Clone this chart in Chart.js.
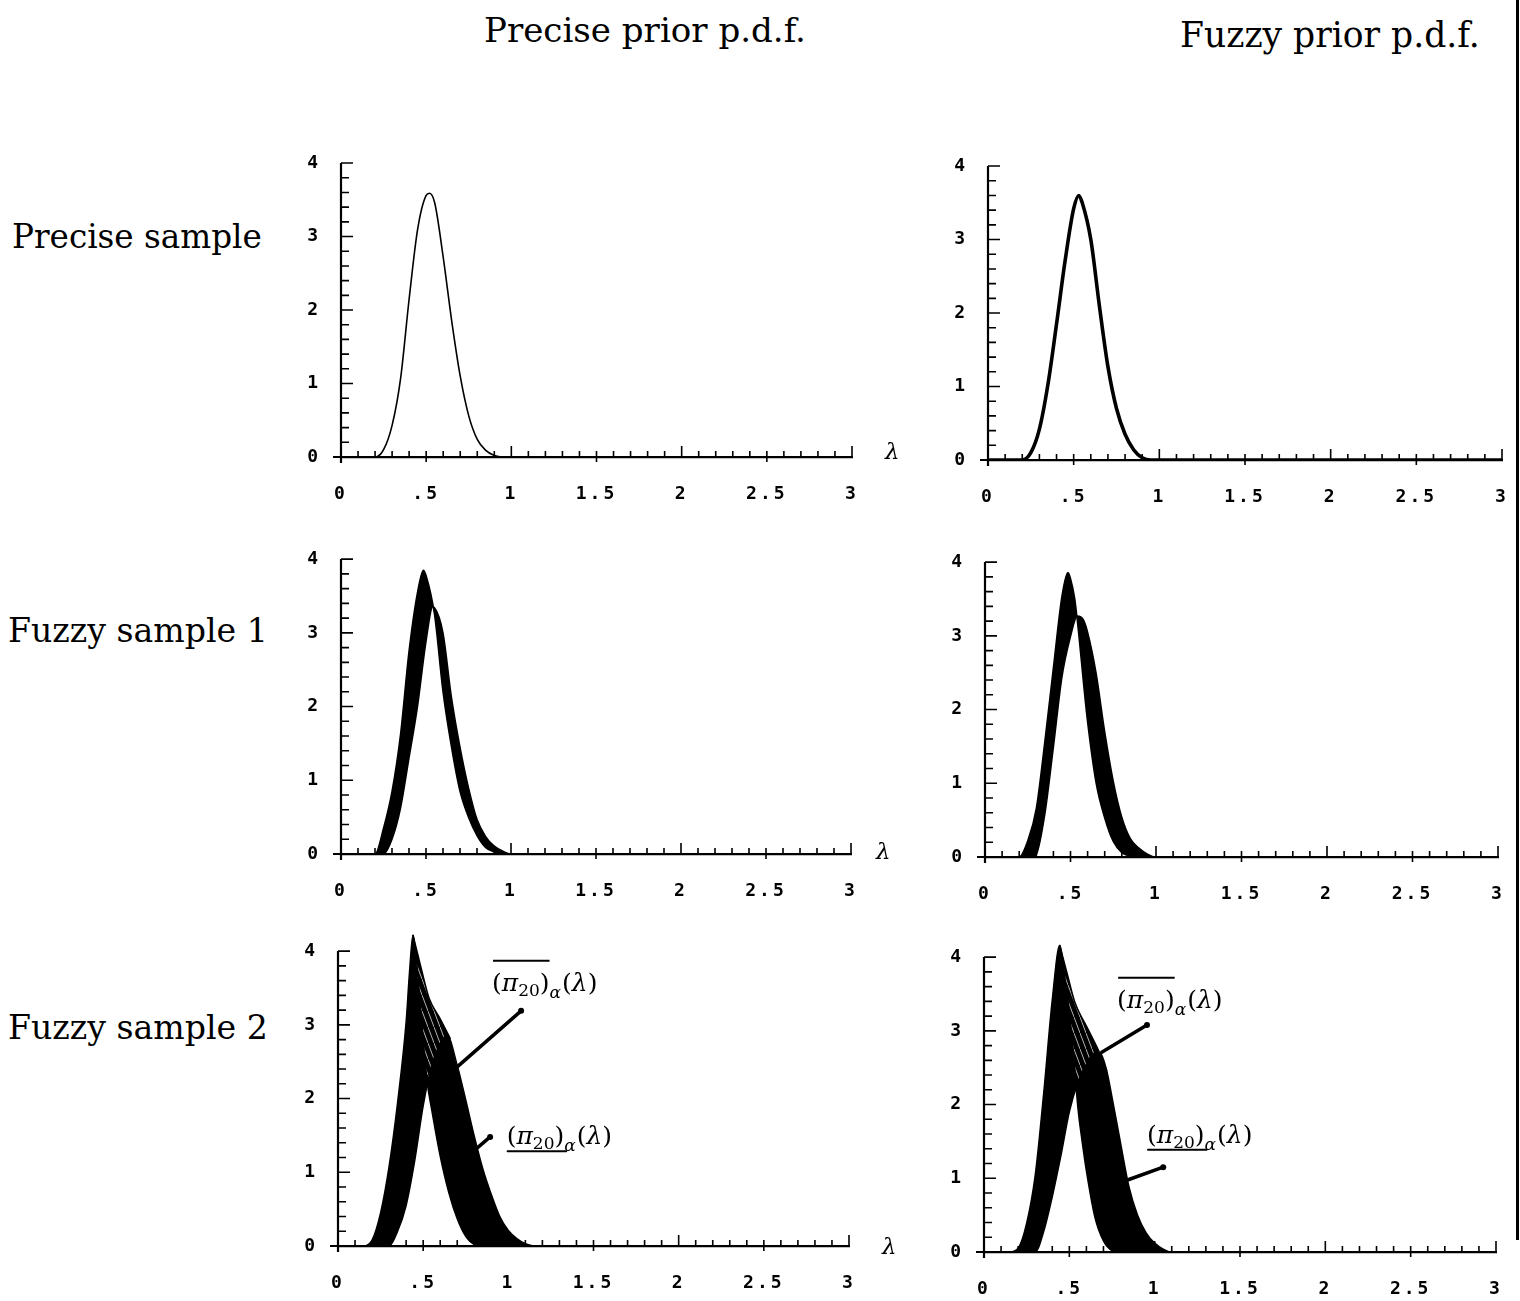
<!DOCTYPE html>
<html>
<head>
<meta charset="utf-8">
<title>Posterior p.d.f. of lambda</title>
<script src="https://cdn.jsdelivr.net/npm/chart.js@4.4.1/dist/chart.umd.min.js"></script>
<style>
  html, body { margin: 0; padding: 0; background: #fff; overflow: hidden; }
  body { width: 1520px; height: 1301px; position: relative; }
  .lbl { position: absolute; font-family: 'DejaVu Serif', serif; color: #000; white-space: nowrap; line-height: 1; }
  canvas { position: absolute; }
  #edge { position: absolute; left: 1516px; top: 0; width: 3px; height: 1240px; background: #000; }
</style>
</head>
<body>
<div id="edge"></div>
<script>
// --- data (lambda, density) ---

// precise sample, precise prior
const lamPP = [0, 0.20, 0.25, 0.30, 0.35, 0.40, 0.45, 0.50, 0.52, 0.55, 0.60, 0.65, 0.70, 0.75, 0.80, 0.85, 0.90, 0.95, 3];
const pdfPP = [0, 0, 0.10, 0.43, 1.07, 2.15, 3.10, 3.56, 3.59, 3.46, 2.72, 1.85, 1.10, 0.56, 0.24, 0.09, 0.02, 0, 0];

// precise sample, fuzzy prior
const lamPF = [0, 0.20, 0.25, 0.30, 0.35, 0.40, 0.45, 0.50, 0.53, 0.55, 0.60, 0.65, 0.70, 0.75, 0.80, 0.85, 0.90, 0.95, 3];
const pdfPF = [0, 0, 0.10, 0.42, 1.03, 1.85, 2.71, 3.42, 3.60, 3.50, 3.00, 2.10, 1.27, 0.70, 0.35, 0.14, 0.03, 0, 0];

// fuzzy sample 1, precise prior (left / right member of the band)
const lamS1P_left = [0, 0.20, 0.25, 0.30, 0.35, 0.40, 0.45, 0.485, 0.50, 0.55, 0.60, 0.65, 0.70, 0.75, 0.80, 0.85, 0.90, 0.95, 3];
const pdfS1P_left = [0, 0, 0.35, 0.85, 1.62, 2.75, 3.55, 3.85, 3.78, 3.25, 2.20, 1.45, 0.85, 0.50, 0.25, 0.09, 0.03, 0, 0];
const lamS1P_right = [0, 0.25, 0.30, 0.35, 0.40, 0.45, 0.50, 0.54, 0.55, 0.60, 0.65, 0.70, 0.75, 0.80, 0.85, 0.90, 0.95, 1.0, 3];
const pdfS1P_right = [0, 0, 0.20, 0.62, 1.30, 2.00, 2.88, 3.35, 3.34, 3.00, 2.12, 1.45, 0.90, 0.47, 0.24, 0.11, 0.04, 0, 0];

// fuzzy sample 1, fuzzy prior
const lamS1F_left = [0, 0.20, 0.25, 0.30, 0.35, 0.40, 0.45, 0.485, 0.50, 0.525, 0.55, 0.575, 0.60, 0.65, 0.70, 0.75, 0.80, 0.85, 0.90, 3];
const pdfS1F_left = [0, 0, 0.22, 0.66, 1.57, 2.57, 3.54, 3.86, 3.78, 3.50, 2.98, 2.38, 1.83, 1.00, 0.53, 0.21, 0.06, 0.01, 0, 0];
const lamS1F_right = [0, 0.28, 0.30, 0.35, 0.40, 0.45, 0.50, 0.54, 0.575, 0.60, 0.65, 0.70, 0.75, 0.80, 0.85, 0.90, 0.95, 1.0, 3];
const pdfS1F_right = [0, 0, 0.03, 0.58, 1.49, 2.44, 2.99, 3.27, 3.22, 3.05, 2.49, 1.70, 1.03, 0.54, 0.25, 0.12, 0.04, 0, 0];

// fuzzy sample 2, precise prior (left, right and upper envelope of the family)
const lamS2P_left = [0, 0.15, 0.20, 0.25, 0.30, 0.35, 0.40, 0.42, 0.44, 0.475, 0.50, 0.525, 0.55, 0.60, 0.65, 0.70, 0.75, 0.80, 0.85, 3];
const pdfS2P_left = [0, 0, 0.08, 0.45, 1.08, 1.95, 3.04, 3.72, 4.22, 3.50, 2.80, 2.20, 1.85, 1.22, 0.73, 0.37, 0.13, 0.02, 0, 0];
const lamS2P_right = [0, 0.30, 0.35, 0.40, 0.45, 0.50, 0.55, 0.60, 0.64, 0.70, 0.75, 0.80, 0.85, 0.90, 0.95, 1.0, 1.05, 1.1, 1.15, 3];
const pdfS2P_right = [0, 0, 0.20, 0.55, 1.15, 1.90, 2.45, 2.75, 2.86, 2.45, 1.98, 1.49, 1.05, 0.70, 0.40, 0.21, 0.10, 0.03, 0, 0];
const lamS2P_top = [0.44, 0.49, 0.535, 0.60, 0.66];
const pdfS2P_top = [4.22, 3.75, 3.36, 3.08, 2.81];

// fuzzy sample 2, fuzzy prior
const lamS2F_left = [0, 0.15, 0.20, 0.25, 0.30, 0.35, 0.40, 0.444, 0.475, 0.50, 0.525, 0.55, 0.575, 0.60, 0.65, 0.70, 0.75, 0.80, 3];
const pdfS2F_left = [0, 0, 0.05, 0.39, 1.04, 2.16, 3.42, 4.16, 3.70, 3.25, 2.68, 1.96, 1.50, 1.10, 0.47, 0.15, 0.02, 0, 0];
const lamS2F_right = [0, 0.30, 0.35, 0.40, 0.45, 0.50, 0.55, 0.60, 0.65, 0.68, 0.72, 0.75, 0.80, 0.85, 0.90, 0.95, 1.0, 1.05, 1.1, 3];
const pdfS2F_right = [0, 0, 0.28, 0.75, 1.30, 1.90, 2.30, 2.55, 2.70, 2.70, 2.45, 2.10, 1.48, 0.88, 0.50, 0.26, 0.12, 0.04, 0, 0];
const lamS2F_top = [0.444, 0.49, 0.532, 0.61, 0.678, 0.72];
const pdfS2F_top = [4.16, 3.75, 3.39, 3.02, 2.70, 2.45];

// tick labels
const xTickText = { 0: '0', 0.5: '.5', 1: '1', 1.5: '1.5', 2: '2', 2.5: '2.5', 3: '3' };
const yTickText = { 0: '0', 1: '1', 2: '2', 3: '3', 4: '4' };

// --- helpers ---
const BLACK = '#000';
const tickFont = { family: "'DejaVu Sans Mono', monospace", size: 18, weight: 'bold' };
const Y_W = 60, TOP = 30, X_H = 50;
const Y_AXIS_TOP = 4, Y_ROOM = 4.3;   // room above the axis so the tallest peaks are not clipped

const pts = (xs, ys) => xs.map((x, i) => ({ x, y: ys[i] }));

// black ground with thin white streaks, for the striated part of the family
const makeHatch = () => {
    const c = document.createElement('canvas');
    c.width = 6; c.height = 16;
    const g = c.getContext('2d');
    g.fillStyle = BLACK;
    g.fillRect(0, 0, 6, 16);
    g.strokeStyle = '#fff';
    g.lineWidth = 0.7;
    g.beginPath(); g.moveTo(0, 0); g.lineTo(6, 16); g.stroke();
    return g.createPattern(c, 'repeat');
};
const hatch = makeHatch();

const curve = (xs, ys, width, extra) => Object.assign({
    data: pts(xs, ys),
    borderColor: BLACK,
    borderWidth: width,
    pointRadius: 0,
    fill: false,
    cubicInterpolationMode: 'monotone'
}, extra || {});

// y axis line and inward minor ticks, like the old plotter axes
const paperAxes = {
    id: 'paperAxes',
    beforeDraw(chart) { chart.ctx.letterSpacing = '3px'; },
    beforeDatasetsDraw(chart) {
        const { ctx, chartArea: a, scales: { x, y } } = chart;
        const yTop = y.getPixelForValue(Y_AXIS_TOP);
        ctx.save();
        ctx.strokeStyle = BLACK;
        ctx.lineWidth = 2.2;
        ctx.beginPath();
        ctx.moveTo(a.left, a.bottom + 6); ctx.lineTo(a.left, yTop);
        ctx.moveTo(a.left - 8, a.bottom); ctx.lineTo(a.left, a.bottom);
        ctx.stroke();
        ctx.lineWidth = 1.6;
        ctx.beginPath();
        for (let k = 1; k <= 20; k++) {
            const py = y.getPixelForValue(k / 5);
            const len = k % 5 === 0 ? 12 : 8;
            ctx.moveTo(a.left, py); ctx.lineTo(a.left + len, py);
        }
        for (let k = 1; k <= 30; k++) {
            const px = x.getPixelForValue(k / 10);
            if (k % 10 === 0) { ctx.moveTo(px, a.bottom); ctx.lineTo(px, a.bottom - 11); }
            else if (k % 5 === 0) { ctx.moveTo(px, a.bottom + 5); ctx.lineTo(px, a.bottom - 6); }
            else { ctx.moveTo(px, a.bottom); ctx.lineTo(px, a.bottom - 6); }
        }
        ctx.stroke();
        ctx.restore();
    }
};

// (pi_20)_alpha(lambda) with over- or underbar
const drawPi = (ctx, x, yc, bar) => {
    const big = "25px 'DejaVu Serif', serif";
    const bigIt = "italic 25px 'DejaVu Serif', serif";
    const small = "17px 'DejaVu Serif', serif";
    const smallIt = "italic 17px 'DejaVu Serif', serif";
    const base = yc + 8;
    let cx = x;
    const put = (t, f, dy) => { ctx.font = f; ctx.fillText(t, cx, base + dy); cx += ctx.measureText(t).width; };
    put('(', big, 0); put('π', bigIt, 0); put('20', small, 5); put(')', big, 0);
    const barEnd = cx;
    put('α', smallIt, 7); cx += 1;
    put('(', big, 0); put('λ', bigIt, 0); put(')', big, 0);
    ctx.lineWidth = 2;
    ctx.beginPath();
    if (bar === 'over') { ctx.moveTo(x + 1, yc - 22); ctx.lineTo(barEnd, yc - 22); }
    else { ctx.moveTo(x + 1, yc + 15); ctx.lineTo(barEnd + 2, yc + 15); }
    ctx.stroke();
};

const makeNotes = (spec) => ({
    id: 'notes',
    afterDatasetsDraw(chart) {
        const { ctx, chartArea: a, scales: { x, y } } = chart;
        ctx.save();
        ctx.letterSpacing = '0px';
        ctx.fillStyle = BLACK;
        ctx.strokeStyle = BLACK;
        ctx.textAlign = 'left';
        ctx.textBaseline = 'alphabetic';
        if (spec.lambda) {
            ctx.font = "italic 23px 'DejaVu Serif', serif";
            ctx.fillText('λ', a.right + spec.lambda[0], a.bottom + spec.lambda[1]);
        }
        (spec.notes || []).forEach(n => {
            drawPi(ctx, x.getPixelForValue(n.at[0]), y.getPixelForValue(n.at[1]), n.bar);
            const p1 = [x.getPixelForValue(n.from[0]), y.getPixelForValue(n.from[1])];
            const p2 = [x.getPixelForValue(n.to[0]), y.getPixelForValue(n.to[1])];
            ctx.lineWidth = 3.5;
            ctx.lineCap = 'round';
            ctx.beginPath(); ctx.moveTo(p1[0], p1[1]); ctx.lineTo(p2[0], p2[1]); ctx.stroke();
            ctx.beginPath(); ctx.arc(p1[0], p1[1], 3, 0, Math.PI * 2); ctx.fill();
        });
        ctx.restore();
    }
});

const buildPanel = (spec) => {
    const plotH = (spec.y0 - spec.y4) * Y_ROOM / Y_AXIS_TOP;
    const c = document.createElement('canvas');
    c.width = (spec.x3 - spec.x0) + Y_W + spec.right;
    c.height = Math.round(plotH) + TOP + X_H;
    c.style.left = (spec.x0 - Y_W) + 'px';
    c.style.top = (spec.y0 - Math.round(plotH) - TOP) + 'px';
    document.body.appendChild(c);

    new Chart(c, {
        type: 'line',
        data: { datasets: spec.datasets },
        options: {
            responsive: false,
            animation: false,
            events: [],
            layout: { padding: { left: 0, top: TOP, right: spec.right, bottom: 0 } },
            plugins: { legend: { display: false }, tooltip: { enabled: false } },
            scales: {
                x: {
                    type: 'linear', min: 0, max: 3,
                    grid: { display: false },
                    border: { display: true, color: BLACK, width: 2.2 },
                    ticks: {
                        stepSize: 0.5, color: BLACK, font: tickFont, padding: 19,
                        maxRotation: 0, autoSkip: false,
                        callback: (v) => xTickText[v]
                    },
                    afterFit: (s) => { s.height = X_H; }
                },
                y: {
                    type: 'linear', min: 0, max: Y_ROOM,
                    grid: { display: false },
                    border: { display: false },
                    ticks: {
                        stepSize: 1, color: BLACK, font: tickFont, padding: 12,
                        callback: (v) => yTickText[v] || ''
                    },
                    afterFit: (s) => { s.width = Y_W; }
                }
            }
        },
        plugins: [paperAxes, makeNotes(spec)]
    });
};

const bandSets = (l, pl, r, pr) => [
    curve(l, pl, 1.5, { fill: 1, backgroundColor: BLACK }),
    curve(r, pr, 1.5)
];

const panels = [
    { x0: 341, x3: 852, y4: 163, y0: 457, right: 60, lambda: [33, 2],
      datasets: [curve(lamPP, pdfPP, 1.6)] },
    { x0: 988, x3: 1502, y4: 166, y0: 460, right: 34,
      datasets: [curve(lamPF, pdfPF, 3.6)] },
    { x0: 341, x3: 851, y4: 559, y0: 854, right: 60, lambda: [25, 5],
      datasets: bandSets(lamS1P_left, pdfS1P_left, lamS1P_right, pdfS1P_right) },
    { x0: 985, x3: 1498, y4: 562, y0: 857, right: 34,
      datasets: bandSets(lamS1F_left, pdfS1F_left, lamS1F_right, pdfS1F_right) },
    { x0: 338, x3: 849, y4: 951, y0: 1246, right: 60, lambda: [33, 8],
      datasets: bandSets(lamS2P_left, pdfS2P_left, lamS2P_right, pdfS2P_right)
          .concat([curve(lamS2P_top, pdfS2P_top, 1.5, { fill: 0, backgroundColor: hatch })]),
      notes: [
          { bar: 'over', at: [0.904, 3.57], from: [1.075, 3.19], to: [0.705, 2.44] },
          { bar: 'under', at: [0.99, 1.49], from: [0.893, 1.48], to: [0.787, 1.27] }
      ] },
    { x0: 984, x3: 1496, y4: 957, y0: 1252, right: 34,
      datasets: bandSets(lamS2F_left, pdfS2F_left, lamS2F_right, pdfS2F_right)
          .concat([curve(lamS2F_top, pdfS2F_top, 1.5, { fill: 0, backgroundColor: hatch })]),
      notes: [
          { bar: 'over', at: [0.78, 3.42], from: [0.955, 3.08], to: [0.69, 2.71] },
          { bar: 'under', at: [0.955, 1.59], from: [1.05, 1.15], to: [0.845, 0.98] }
      ] }
];

panels.forEach(buildPanel);

// --- column and row headings, fitted to the width they take in the figure ---
const pageLabel = (text, left, width, baseline) => {
    const d = document.createElement('div');
    d.className = 'lbl';
    d.textContent = text;
    d.style.fontSize = '32px';
    document.body.appendChild(d);
    const size = 32 * width / d.getBoundingClientRect().width;
    d.style.fontSize = size + 'px';
    d.style.left = left + 'px';
    d.style.top = (baseline - 0.846 * size) + 'px';
};

pageLabel('Precise prior p.d.f.', 484, 322, 42);
pageLabel('Fuzzy prior p.d.f.', 1180, 300, 47);
pageLabel('Precise sample', 12, 250, 249);
pageLabel('Fuzzy sample 1', 8, 260, 642);
pageLabel('Fuzzy sample 2', 8, 260, 1039);
</script>
</body>
</html>
